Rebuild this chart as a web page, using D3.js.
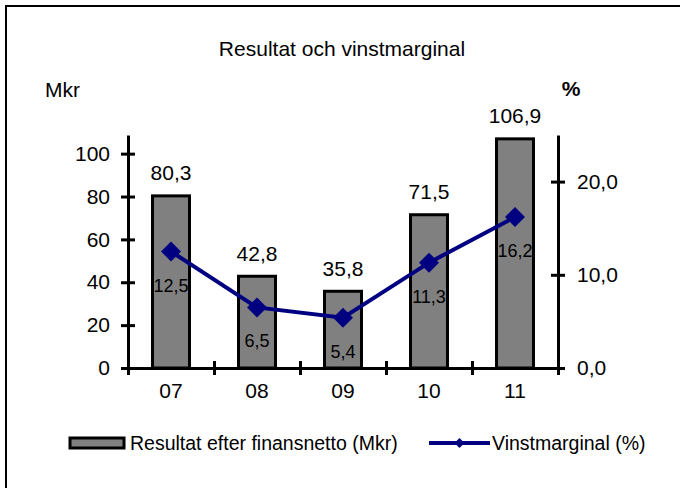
<!DOCTYPE html>
<html><head><meta charset="utf-8">
<script src="https://cdn.jsdelivr.net/npm/d3@7"></script>
<style>
body{margin:0;background:#fff}
svg{display:block}
text{font-family:"Liberation Sans",Arial,sans-serif;fill:#000}
</style>
</head><body><svg id="c" width="680" height="488"></svg>
<script>
const categories = ["07","08","09","10","11"];
const resultat = [80.3, 42.8, 35.8, 71.5, 106.9];
const vinstmarginal = [12.5, 6.5, 5.4, 11.3, 16.2];
const leftTicks = [0, 20, 40, 60, 80, 100];
const rightTicks = [0, 10, 20];
const chartTitle = "Resultat och vinstmarginal";
const leftUnit = "Mkr";
const rightUnit = "%";
const seriesNames = ["Resultat efter finansnetto (Mkr)", "Vinstmarginal (%)"];

const fmt1 = v => d3.format(".1f")(v).replace(".", ",");
const svg = d3.select("#c");

// frame (top and left edges)
svg.append("path").attr("d", "M6,488V6H680").attr("fill", "none").attr("stroke", "#000").attr("stroke-width", 2);

const x0 = 128, x1 = 558, yBottom = 368, yTop = 135;
const x = d3.scaleBand().domain(categories).range([x0, x1]).padding(0);
const bounds = d3.scaleLinear().domain([0, categories.length]).range([x0, x1]);
const yL = d3.scaleLinear().domain([0, 108.7]).range([yBottom, yTop]);
const yR = d3.scaleLinear().domain([0, 25]).range([yBottom, yTop]);

// title and units
svg.append("text").attr("x", 342).attr("y", 56).attr("text-anchor", "middle")
  .style("font-size", "21px").text(chartTitle);
svg.append("text").attr("x", 45).attr("y", 97).style("font-size", "21px").text(leftUnit);
svg.append("text").attr("x", 571).attr("y", 96).attr("text-anchor", "middle")
  .style("font-size", "21px").style("font-weight", "bold").text(rightUnit);

// bars
const bw = x.bandwidth() * 0.43;
svg.append("g").selectAll("rect").data(resultat).join("rect")
  .attr("x", (d, i) => x(categories[i]) + (x.bandwidth() - bw) / 2)
  .attr("y", d => yL(d))
  .attr("width", bw)
  .attr("height", d => yL(0) - yL(d))
  .attr("fill", "#808080").attr("stroke", "#000").attr("stroke-width", 3);

// axes
function styleAxis(g, crossLen, horizontal) {
  g.select(".domain").attr("stroke", "#000").attr("stroke-width", 3);
  g.selectAll(".tick line").attr("stroke", "#000").attr("stroke-width", 3)
    .attr(horizontal ? "y1" : "x1", -crossLen).attr(horizontal ? "y2" : "x2", crossLen);
  g.selectAll(".tick text").style("font-size", "21px").attr("font-family", null);
}
const gL = svg.append("g").attr("transform", `translate(${x0},0)`)
  .call(d3.axisLeft(yL).tickValues(leftTicks).tickSizeOuter(0).tickSizeInner(7).tickPadding(11).tickFormat(d3.format("d")));
styleAxis(gL, 7, false);
const gR = svg.append("g").attr("transform", `translate(${x1},0)`)
  .call(d3.axisRight(yR).tickValues(rightTicks).tickSizeOuter(0).tickSizeInner(7).tickPadding(12).tickFormat(fmt1));
styleAxis(gR, 7, false);
const gB = svg.append("g").attr("transform", `translate(0,${yBottom})`)
  .call(d3.axisBottom(bounds).tickValues(d3.range(categories.length + 1)).tickSizeOuter(0).tickSizeInner(7).tickFormat(""));
styleAxis(gB, 7, true);
const gX = svg.append("g").attr("transform", `translate(0,${yBottom})`)
  .call(d3.axisBottom(x).tickSize(0).tickPadding(15));
gX.select(".domain").remove();
gX.selectAll(".tick text").style("font-size", "21px").attr("font-family", null);

// bar labels
svg.append("g").selectAll("text").data(resultat).join("text")
  .attr("x", (d, i) => x(categories[i]) + x.bandwidth() / 2)
  .attr("y", d => yL(d) - 15.5)
  .attr("text-anchor", "middle").style("font-size", "21px")
  .text(d => fmt1(d));

// line
const cx = (d, i) => x(categories[i]) + x.bandwidth() / 2;
svg.append("path").datum(vinstmarginal)
  .attr("d", d3.line().x(cx).y(d => yR(d)))
  .attr("fill", "none").attr("stroke", "#000080").attr("stroke-width", 4);
const diamond = d3.symbol().type(d3.symbolDiamond2 || d3.symbolDiamond).size(200);
svg.append("g").selectAll("path").data(vinstmarginal).join("path")
  .attr("transform", (d, i) => `translate(${cx(d, i)},${yR(d)}) rotate(45)`)
  .attr("d", d3.symbol().type(d3.symbolSquare).size(200))
  .attr("fill", "#000080");
svg.append("g").selectAll("text").data(vinstmarginal).join("text")
  .attr("x", cx).attr("y", d => yR(d) + 40)
  .attr("text-anchor", "middle").style("font-size", "18px")
  .text(d => fmt1(d));

// legend
const lg = svg.append("g").attr("transform", "translate(0,443)");
lg.append("rect").attr("x", 70).attr("y", -5).attr("width", 54).attr("height", 10)
  .attr("fill", "#808080").attr("stroke", "#000").attr("stroke-width", 3);
lg.append("text").attr("x", 130).attr("y", 7).style("font-size", "19.5px").text(seriesNames[0]);
lg.append("line").attr("x1", 429).attr("x2", 490).attr("y1", 0).attr("y2", 0)
  .attr("stroke", "#000080").attr("stroke-width", 4);
lg.append("path").attr("transform", "translate(459.5,0) rotate(45)")
  .attr("d", d3.symbol().type(d3.symbolSquare).size(50)).attr("fill", "#000080");
lg.append("text").attr("x", 492).attr("y", 7).style("font-size", "19.5px").text(seriesNames[1]);
</script>
</body></html>
